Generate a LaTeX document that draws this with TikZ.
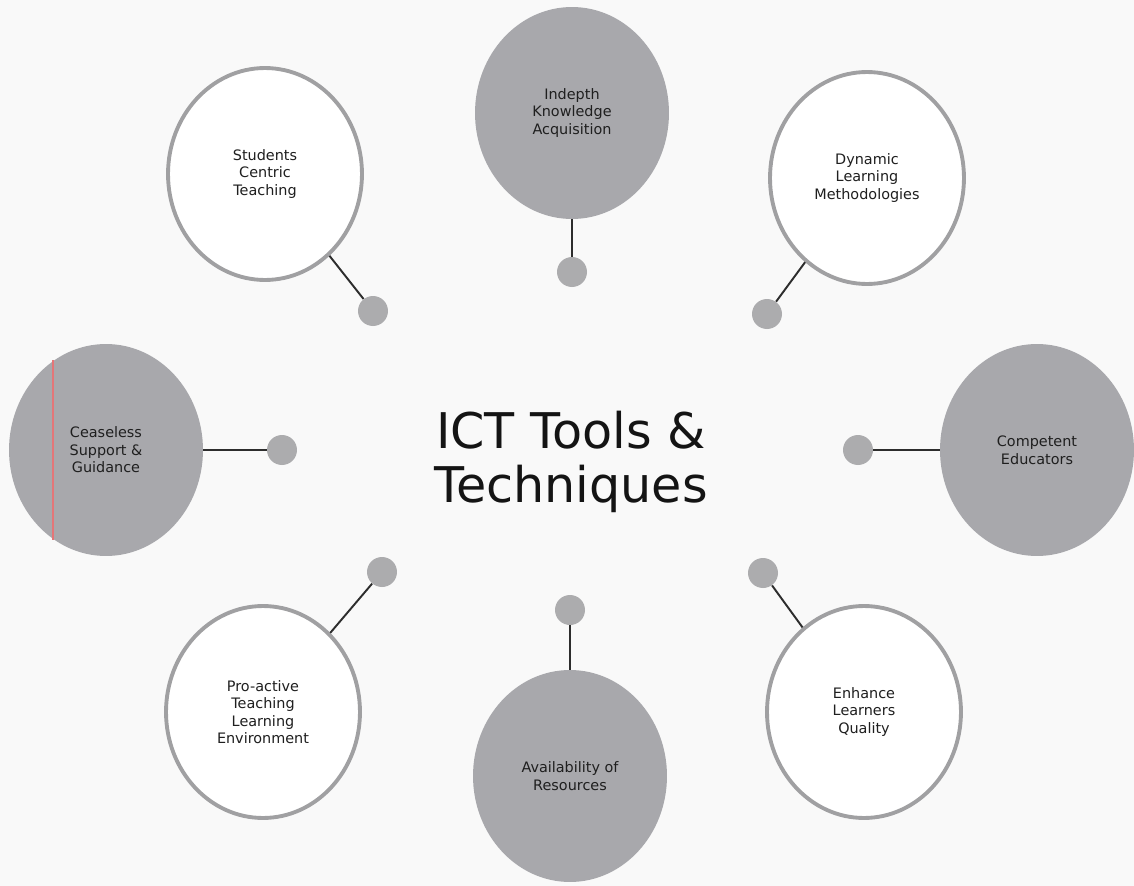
\documentclass[tikz,border=0pt]{standalone}
\usepackage{fontspec}
\setmainfont{DejaVu Sans}
\usetikzlibrary{shapes.geometric}

\definecolor{pagegrey}{RGB}{249,249,249}
\definecolor{bubblegrey}{RGB}{168,168,172}
\definecolor{ringgrey}{RGB}{160,160,162}
\definecolor{knobgrey}{RGB}{172,172,174}
\definecolor{stemgrey}{RGB}{45,45,45}
\definecolor{markred}{RGB}{228,118,120}

\tikzset{
  bubble/.style={ellipse, minimum width=3.88cm, minimum height=4.24cm, inner sep=0pt,
    align=center, text=black!88, font=\fontsize{8.2}{10}\selectfont},
  solidbubble/.style={bubble, fill=bubblegrey},
  ringbubble/.style={bubble, draw=ringgrey, line width=2.2pt, fill=white},
  knob/.style={circle, fill=knobgrey, minimum size=0.6cm, inner sep=0pt},
  stem/.style={draw=stemgrey, line width=1.1pt}
}

\begin{document}
\begin{tikzpicture}[x=0.02cm, y=-0.02cm]
% Page
\fill[pagegrey] (0,0) rectangle (1134,886);
\useasboundingbox (0,0) rectangle (1134,886);

% Centre title
\node[font=\fontsize{28}{31}\selectfont, align=center, text=black!92] (title) at (571,462)
  {ICT Tools \&\\Techniques};

% Bubbles round the title
\node[solidbubble] (indepth) at (572,113) {Indepth\\Knowledge\\Acquisition};
\node[ringbubble] (students) at (265,174) {Students\\Centric\\Teaching};
\node[ringbubble] (dynamic) at (867,178) {Dynamic\\Learning\\Methodologies};
\node[solidbubble] (ceaseless) at (106,450) {Ceaseless\\Support \&\\Guidance};
\node[solidbubble] (competent) at (1037,450) {Competent\\Educators};
\node[ringbubble] (proactive) at (263,712) {Pro-active\\Teaching\\Learning\\Environment};
\node[solidbubble] (resources) at (570,776) {Availability of\\Resources};
\node[ringbubble] (enhance) at (864,712) {Enhance\\Learners\\Quality};

% Red mark on the left bubble
\draw[markred, line width=1.2pt] (53,360) -- (53,540);

% Knobs
\node[knob] (kindepth) at (572,272) {};
\node[knob] (kstudents) at (373,311) {};
\node[knob] (kdynamic) at (767,314) {};
\node[knob] (kceaseless) at (282,450) {};
\node[knob] (kcompetent) at (858,450) {};
\node[knob] (kproactive) at (382,572) {};
\node[knob] (kresources) at (570,610) {};
\node[knob] (kenhance) at (763,573) {};

% Stems
\draw[stem] (indepth) -- (kindepth);
\draw[stem] (students) -- (kstudents);
\draw[stem] (dynamic) -- (kdynamic);
\draw[stem] (ceaseless) -- (kceaseless);
\draw[stem] (competent) -- (kcompetent);
\draw[stem] (proactive) -- (kproactive);
\draw[stem] (resources) -- (kresources);
\draw[stem] (enhance) -- (kenhance);
\end{tikzpicture}
\end{document}
